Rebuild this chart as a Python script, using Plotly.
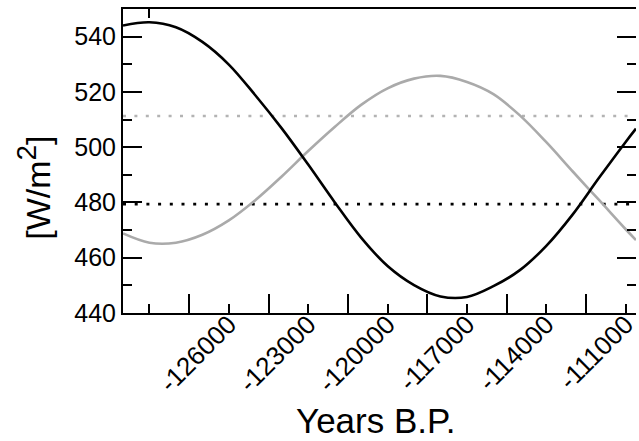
import plotly.graph_objects as go

# ---- data (values every 1000 years) ----
years = [-130000, -129000, -128000, -127000, -126000, -125000, -124000, -123000,
         -122000, -121000, -120000, -119000, -118000, -117000, -116000, -115000,
         -114000, -113000, -112000, -111000, -110610]
insol_black = [544.0, 545.2, 543.4, 538.1, 529.9, 518.8, 506.8, 493.7,
               480.1, 467.3, 457.0, 450.1, 446.0, 445.8, 449.7, 455.5,
               464.3, 475.7, 489.0, 501.9, 506.7]
insol_gray = [468.8, 465.45, 465.45, 468.3, 473.5, 480.8, 489.4, 498.6,
              507.3, 515.3, 521.3, 524.8, 525.8, 523.6, 519.2, 511.5,
              501.8, 491.2, 480.8, 470.3, 466.4]

mean_black = 479.4
mean_gray = 511.3

x_range = [-130000, -110610]
y_range = [440, 550]

x_label_vals = [-126000, -123000, -120000, -117000, -114000, -111000]
x_label_text = ["-126000", "-123000", "-120000", "-117000", "-114000", "-111000"]
x_extra_short = [-129000]
x_long_vals = [-127500, -124500, -121500, -118500, -115500, -112500]
y_major_vals = [440, 460, 480, 500, 520, 540]
y_minor_vals = [450, 470, 490, 510, 530]

BLACK = "#000000"
GRAY = "#aaaaaa"
GRAY_DOT = "#b3b3b3"
FONT = "Liberation Sans, Arial, Helvetica, sans-serif"

fig = go.Figure()
fig.add_trace(go.Scatter(x=years, y=insol_gray, mode="lines",
                         line=dict(color=GRAY, width=2.6, shape="spline", smoothing=1.0),
                         showlegend=False, hoverinfo="skip"))
fig.add_trace(go.Scatter(x=years, y=insol_black, mode="lines",
                         line=dict(color=BLACK, width=2.6, shape="spline", smoothing=1.0),
                         showlegend=False, hoverinfo="skip"))
# invisible trace to activate the extra tick axes
fig.add_trace(go.Scatter(x=[years[0]], y=[insol_black[0]], xaxis="x2", yaxis="y2",
                         mode="markers", marker=dict(opacity=0), showlegend=False,
                         hoverinfo="skip"))

fig.add_shape(type="line", xref="paper", x0=0, x1=1, yref="y", y0=mean_gray, y1=mean_gray,
              line=dict(color=GRAY_DOT, width=2.6, dash="3px,8.4px"), layer="below")
fig.add_shape(type="line", xref="paper", x0=0, x1=1, yref="y", y0=mean_black, y1=mean_black,
              line=dict(color=BLACK, width=2.6, dash="3px,8.7px"), layer="below")

tick_style = dict(ticks="inside", tickcolor=BLACK, tickwidth=1.6)
minor_style = dict(ticks="inside", tickcolor=BLACK, tickwidth=1.6, showgrid=False)

fig.update_layout(
    width=639, height=441,
    margin=dict(l=123, r=0, t=9, b=128),
    paper_bgcolor="white", plot_bgcolor="white",
    font=dict(family=FONT, size=25, color=BLACK),
    xaxis=dict(range=x_range, showgrid=False, zeroline=False,
               showline=True, linecolor=BLACK, linewidth=2, mirror=True,
               tickmode="array", tickvals=x_label_vals, ticktext=x_label_text,
               ticklen=9, tickangle=-45, tickfont=dict(size=26),
               ticklabeloverflow="allow", ticklabelstandoff=-16,
               minor=dict(tickmode="array", tickvals=x_long_vals, ticklen=19, **minor_style),
               **tick_style),
    xaxis2=dict(range=x_range, overlaying="x", anchor="y", side="bottom",
                showgrid=False, zeroline=False, showline=False, showticklabels=False,
                mirror="ticks", tickmode="array", tickvals=x_extra_short, ticklen=9,
                **tick_style),
    yaxis=dict(range=y_range, showgrid=False, zeroline=False,
               showline=True, linecolor=BLACK, linewidth=2, mirror=False,
               tickmode="array", tickvals=y_major_vals, ticklen=19,
               tickfont=dict(size=25),
               minor=dict(tickmode="array", tickvals=y_minor_vals, ticklen=9, **minor_style),
               **tick_style),
    yaxis2=dict(range=y_range, overlaying="y", anchor="x", side="right",
                showgrid=False, zeroline=False, showline=False, showticklabels=False,
                tickmode="array", tickvals=y_major_vals, ticklen=19,
                minor=dict(tickmode="array", tickvals=y_minor_vals, ticklen=9, **minor_style),
                **tick_style),
    annotations=[
        dict(text="Years B.P.", xref="paper", yref="paper", x=0.494, y=-0.352,
             xanchor="center", yanchor="middle", showarrow=False,
             font=dict(family=FONT, size=35, color=BLACK)),
        dict(text='[W/m<sup><span style="font-size:28px">2</span></sup>]',
             xref="paper", yref="paper", x=-0.174, y=0.411,
             xanchor="center", yanchor="middle", showarrow=False, textangle=-90,
             font=dict(family=FONT, size=34, color=BLACK)),
    ],
)

fig.write_html("out.html")
